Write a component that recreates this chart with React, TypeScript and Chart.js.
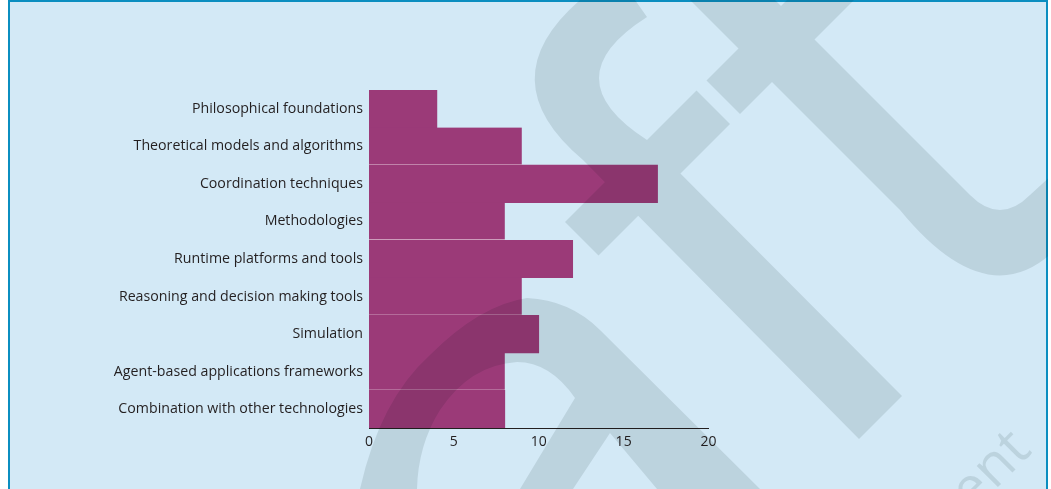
import React, { useEffect, useRef } from 'react';
import { Chart, registerables } from 'chart.js';

Chart.register(...registerables);

// ---- data ----
const categories = [
  'Philosophical foundations',
  'Theoretical models and algorithms',
  'Coordination techniques',
  'Methodologies',
  'Runtime platforms and tools',
  'Reasoning and decision making tools',
  'Simulation',
  'Agent-based applications frameworks',
  'Combination with other technologies',
];
const counts = [4, 9, 17, 8, 12, 9, 10, 8, 8];
const xTickValues = [0, 5, 10, 15, 20];

// ---- style ----
const W = 1051;
const H = 489;
const BG = '#d3e9f6';
const FRAME = '#0b8ec0';
const BAR = '#9b3a78';
const INK = '#231f20';
const FONT = '"Open Sans", "Noto Sans", sans-serif';

type P = [number, number];

function poly(c: CanvasRenderingContext2D, pts: P[]) {
  c.beginPath();
  c.moveTo(pts[0][0], pts[0][1]);
  for (let i = 1; i < pts.length; i++) c.lineTo(pts[i][0], pts[i][1]);
  c.closePath();
  c.fill();
}

// decorative background watermark (not data)
function drawWatermark(c: CanvasRenderingContext2D) {
  c.fillStyle = '#000';
  // big arc + diagonal stroke
  c.beginPath();
  c.moveTo(580, 0);
  c.lineTo(635, 0);
  c.lineTo(647, 17);
  c.quadraticCurveTo(551, 78, 647, 140);
  c.lineTo(902, 396);
  c.lineTo(859, 439);
  c.lineTo(583, 160);
  c.quadraticCurveTo(488, 80, 580, 0);
  c.closePath();
  c.fill();
  // cross stroke (upper piece)
  poly(c, [[787, 0], [854, 0], [740, 114], [706.5, 80.5]]);
  // cross stroke (lower piece)
  poly(c, [[696.5, 90.5], [730, 124], [598.5, 255.5], [565, 222]]);
  // right stem with hook
  c.beginPath();
  c.moveTo(690, 0);
  c.lineTo(775, 0);
  c.lineTo(970, 195);
  c.quadraticCurveTo(1000, 225, 1030, 195);
  c.lineTo(1090, 140);
  c.lineTo(1090, 240);
  c.lineTo(1060, 245);
  c.quadraticCurveTo(990, 320, 900, 210);
  c.closePath();
  c.fill();
  // bottom arch
  c.beginPath();
  c.moveTo(360, 489);
  c.quadraticCurveTo(380, 400, 430, 355);
  c.quadraticCurveTo(480, 305, 527, 298);
  c.quadraticCurveTo(570, 300, 600, 330);
  c.lineTo(760, 489);
  c.lineTo(657, 489);
  c.lineTo(610, 433);
  c.lineTo(573, 489);
  c.lineTo(520, 489);
  c.lineTo(575, 398);
  c.quadraticCurveTo(550, 362, 517, 362);
  c.quadraticCurveTo(470, 365, 440, 410);
  c.quadraticCurveTo(418, 445, 417, 489);
  c.closePath();
  c.fill();
  // rotated word
  c.save();
  c.translate(1033, 452);
  c.rotate(-Math.PI / 4);
  c.font = `56px ${FONT}`;
  c.textAlign = 'right';
  c.textBaseline = 'alphabetic';
  c.fillText('Document', 0, 0);
  c.restore();
}

const framePlugin = {
  id: 'frame',
  beforeDraw(chart: any) {
    const c: CanvasRenderingContext2D = chart.ctx;
    c.save();
    c.fillStyle = '#ffffff';
    c.fillRect(0, 0, W, H);
    c.fillStyle = FRAME;
    c.fillRect(8, 0, 1040, H);
    c.fillStyle = BG;
    c.fillRect(10, 2, 1036, H);
    c.restore();
  },
  afterDraw(chart: any) {
    const c: CanvasRenderingContext2D = chart.ctx;
    const m = document.createElement('canvas');
    m.width = W;
    m.height = H;
    const mc = m.getContext('2d')!;
    drawWatermark(mc);
    mc.globalCompositeOperation = 'source-in';
    mc.fillStyle = 'rgb(228,231,231)';
    mc.fillRect(0, 0, W, H);
    c.save();
    c.beginPath();
    c.rect(8, 0, 1040, H);
    c.clip();
    c.globalCompositeOperation = 'multiply';
    c.drawImage(m, 0, 0);
    c.restore();
  },
};

export default function App() {
  const ref = useRef<HTMLCanvasElement | null>(null);

  useEffect(() => {
    if (!ref.current) return;
    const chart = new Chart(ref.current, {
      type: 'bar',
      data: {
        labels: categories,
        datasets: [
          {
            data: counts,
            backgroundColor: BAR,
            borderColor: '#ffffff',
            borderSkipped: false,
            borderWidth: (ctx: any) =>
              ctx.dataIndex % 2 === 1 && ctx.dataIndex < categories.length - 1
                ? { top: 0, right: 0, bottom: 1, left: 0 }
                : 0,
            barPercentage: 1,
            categoryPercentage: 1,
          },
        ],
      },
      options: {
        indexAxis: 'y',
        responsive: false,
        animation: false,
        devicePixelRatio: 1,
        layout: { padding: { top: 90, right: 342.5, bottom: 0, left: 0 } },
        plugins: {
          legend: { display: false },
          title: { display: false },
          tooltip: { enabled: false },
        },
        scales: {
          x: {
            type: 'linear',
            min: 0,
            max: 20,
            afterBuildTicks: (s: any) => {
              s.ticks = xTickValues.map((v) => ({ value: v }));
            },
            afterFit: (s: any) => {
              s.height = 61;
            },
            grid: { display: false, drawTicks: false },
            border: { display: true, color: INK, width: 1 },
            ticks: {
              color: INK,
              padding: 6,
              maxRotation: 0,
              font: { family: FONT, size: 14 },
            },
          },
          y: {
            z: 1,
            afterFit: (s: any) => {
              s.width = 369;
            },
            grid: { display: false, drawTicks: false },
            border: { display: true, color: INK, width: 1 },
            ticks: {
              color: INK,
              padding: 6,
              autoSkip: false,
              font: { family: FONT, size: 14.2 },
            },
          },
        },
      } as any,
      plugins: [framePlugin],
    });
    return () => chart.destroy();
  }, []);

  return (
    <canvas
      ref={ref}
      width={W}
      height={H}
      style={{ position: 'fixed', left: 0, top: 0, width: W, height: H, display: 'block' }}
    />
  );
}
